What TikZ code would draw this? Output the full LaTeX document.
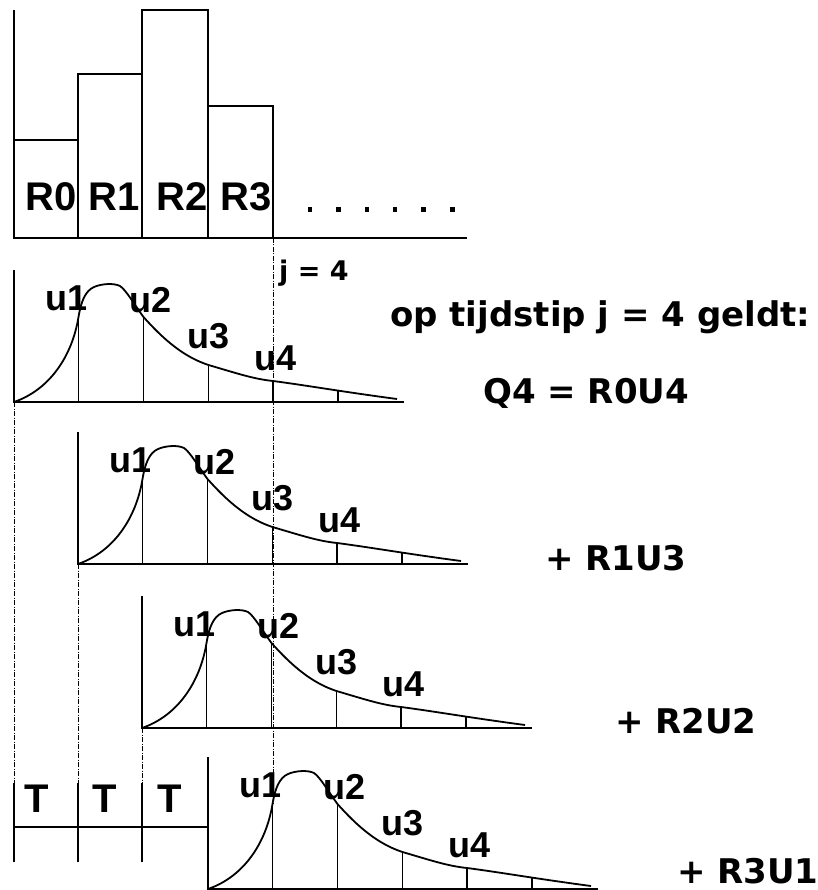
\documentclass[tikz,border=0pt]{standalone}
\usepackage{fontspec}
\newfontfamily\labfont{Liberation Sans}
\newfontfamily\eqfont{DejaVu Sans}

\tikzset{
  solidline/.style={line width=1.8pt},
  guide/.style={line width=1pt, dash pattern=on 5pt off 1.5pt on 1pt off 1.5pt},
  rlab/.style={font=\labfont\bfseries\fontsize{40}{42}\selectfont, inner sep=0, anchor=base},
  tlab/.style={font=\labfont\bfseries\fontsize{40}{42}\selectfont, inner sep=0, anchor=base},
  ulab/.style={font=\labfont\bfseries\fontsize{36}{38}\selectfont, inner sep=0, anchor=base west},
  eqlab/.style={font=\eqfont\bfseries\fontsize{34}{36}\selectfont, inner sep=0, anchor=base west},
  jlab/.style={font=\eqfont\bfseries\fontsize{27}{28}\selectfont, inner sep=0, anchor=base west},
}

% one unit-hydrograph panel: #1 = name prefix, #2 = origin x, #3 = origin y
\newcommand\uhpanel[3]{%
  \begin{scope}[shift={(#2,#3)}]
    \coordinate (#1o) at (0,0);
    \draw[solidline] (0,-132) -- (#1o) -- (390,0);
    \draw[solidline, line join=round]
      (0,0) .. controls (35,-12) and (58,-45) .. (64.5,-85)
            .. controls (67,-100) and (71,-111) .. (80,-115)
            .. controls (88,-118.5) and (100,-119) .. (106,-116)
            .. controls (112,-112) and (120,-98) .. (129.5,-85)
            .. controls (150,-62) and (170,-45) .. (194.5,-37)
            .. controls (225,-28) and (240,-23) .. (259,-21)
            .. controls (290,-17) and (330,-10) .. (383,-3);
    \foreach \t/\h in {64.5/85, 129.5/85, 194.5/37, 259/21, 324/12}
      \draw[solidline] (\t,0) -- (\t,-\h);
    \node[ulab] (#1u1) at (31,-92) {u1};
    \node[ulab] (#1u2) at (115,-90) {u2};
    \node[ulab] (#1u3) at (173,-54) {u3};
    \node[ulab] (#1u4) at (240,-32) {u4};
  \end{scope}}

\begin{document}
\begin{tikzpicture}[x=1pt, y=-1pt]
  \useasboundingbox (0,0) rectangle (817,890);

  % rainfall histogram
  \draw[solidline] (14,10) -- (14,238) -- (467,238);
  \draw[solidline] (14,238) rectangle (78,140);
  \draw[solidline] (78,238) rectangle (142,74);
  \draw[solidline] (142,238) rectangle (208,10);
  \draw[solidline] (208,238) rectangle (273,106);
  \node[rlab] (r0) at (51,211) {R0};
  \node[rlab] (r1) at (114,211) {R1};
  \node[rlab] (r2) at (182,211) {R2};
  \node[rlab] (r3) at (246,211) {R3};
  \foreach \x in {310,338.5,367,395,423.5,452.5}
    \fill (\x-2.3,207.4) rectangle (\x+2.3,211.9);

  % time marker j = 4
  \coordinate (jtop) at (273,238);
  \coordinate (jbot) at (273,804);
  \draw[guide] (jtop) -- (jbot);
  \node[jlab] (jval) at (279,280) {j = 4};

  % shifted unit hydrographs
  \uhpanel{a}{14}{402}
  \uhpanel{b}{78}{564}
  \uhpanel{c}{142}{728}
  \uhpanel{d}{208}{889}

  % vertical guides down to the time strip
  \coordinate (g0) at (14,783);
  \coordinate (g1) at (78,783);
  \coordinate (g2) at (142,783);
  \draw[guide] (ao) -- (g0);
  \draw[guide] (bo) -- (g1);
  \draw[guide] (co) -- (g2);

  % time strip with intervals T
  \draw[solidline] (g0) -- (14,862);
  \draw[solidline] (g1) -- (78,862);
  \draw[solidline] (g2) -- (142,862);
  \draw[solidline] (14,827) -- (208,827);
  \node[tlab] (t0) at (37,812) {T};
  \node[tlab] (t1) at (105,812) {T};
  \node[tlab] (t2) at (170,812) {T};

  % convolution sum
  \node[eqlab] (head) at (390,326) {op tijdstip j = 4 geldt:};
  \node[eqlab] (q4) at (483,403) {Q4 = R0U4};
  \node[eqlab] (s1) at (545,570) {+ R1U3};
  \node[eqlab] (s2) at (615,733) {+ R2U2};
  \node[eqlab] (s3) at (677,883) {+ R3U1};
\end{tikzpicture}
\end{document}
